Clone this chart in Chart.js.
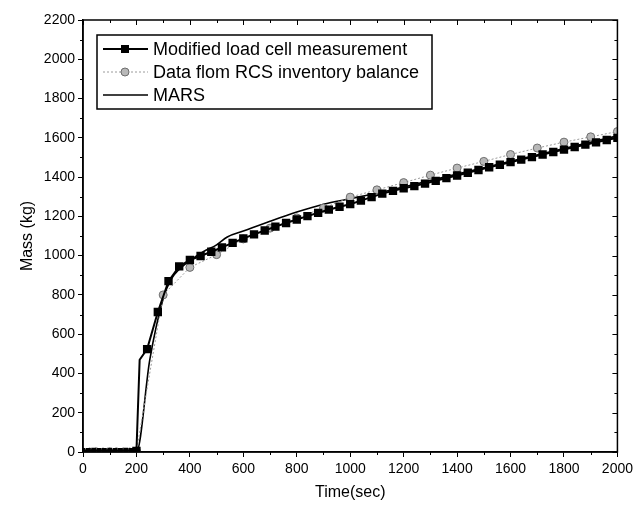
<!DOCTYPE html>
<html>
<head>
<meta charset="utf-8">
<script src="https://cdn.jsdelivr.net/npm/chart.js@4.4.1/dist/chart.umd.min.js"></script>
<style>
    html, body { margin: 0; padding: 0; background: #fff; }
    #wrap { width: 637px; height: 515px; }
</style>
</head>
<body>
<div id="wrap"><canvas id="massChart"></canvas></div>
<script>
// data
const seriesNames = ['Modified load cell measurement', 'Data flom RCS inventory balance', 'MARS'];

const loadTime = [0, 20, 40, 60, 80, 100, 120, 140, 160, 180, 200, 212, 240, 280, 320, 360, 400, 440,
    480, 520, 560, 600, 640, 680, 720, 760, 800, 840, 880, 920, 960, 1000, 1040, 1080, 1120, 1160,
    1200, 1240, 1280, 1320, 1360, 1400, 1440, 1480, 1520, 1560, 1600, 1640, 1680, 1720, 1760, 1800,
    1840, 1880, 1920, 1960, 2000];
const loadMass = [8, 8, 9, 8, 8, 9, 8, 8, 9, 8, 5, 470, 524, 713, 870, 945, 978, 998,
    1020, 1042, 1065, 1088, 1108, 1128, 1148, 1166, 1184, 1201, 1218, 1234, 1249, 1262, 1280, 1298, 1316, 1330,
    1343, 1354, 1367, 1381, 1395, 1408, 1422, 1436, 1450, 1463, 1476, 1489, 1502, 1515, 1528, 1540,
    1553, 1565, 1577, 1589, 1600];

const rcsTime = [0, 25, 50, 75, 100, 125, 150, 175, 200, 300, 400, 500, 600, 700, 800, 900, 1000,
    1100, 1200, 1300, 1400, 1500, 1600, 1700, 1800, 1900, 2000];
const rcsMass = [10, 10, 11, 10, 10, 11, 10, 10, 5, 800, 940, 1005, 1085, 1140, 1192, 1242, 1298,
    1335, 1372, 1410, 1446, 1480, 1515, 1548, 1578, 1605, 1632];

const marsTime = [0, 200, 250, 300, 330, 360, 400, 450, 500, 540, 600, 700, 800, 900, 1000,
    1100, 1200, 1400, 1600, 1800, 2000];
const marsMass = [0, 0, 470, 780, 880, 930, 975, 1020, 1055, 1095, 1125, 1175, 1222, 1262, 1290,
    1318, 1350, 1415, 1480, 1545, 1610];

const xTicks = [0, 200, 400, 600, 800, 1000, 1200, 1400, 1600, 1800, 2000];
const yTicks = [0, 200, 400, 600, 800, 1000, 1200, 1400, 1600, 1800, 2000, 2200];

const toPoints = (xs, ys) => xs.map((x, i) => ({ x: x, y: ys[i] }));
const FONT = '"Liberation Sans", Arial, sans-serif';

// frame, minor ticks and inward ticks on the top/right edges
const framePlugin = {
    id: 'frame',
    afterDraw(chart) {
        const { ctx, chartArea: a, scales } = chart;
        ctx.save();
        ctx.strokeStyle = '#000';
        ctx.lineWidth = 1.5;
        ctx.strokeRect(a.left, a.top, a.right - a.left, a.bottom - a.top);
        ctx.lineWidth = 1;
        ctx.beginPath();
        for (let v = 0; v <= 2000; v += 100) {
            const px = Math.round(scales.x.getPixelForValue(v)) + 0.5;
            const major = v % 200 === 0;
            if (!major) { ctx.moveTo(px, a.bottom); ctx.lineTo(px, a.bottom + 3); }
            ctx.moveTo(px, a.top); ctx.lineTo(px, a.top + (major ? 5 : 3));
        }
        for (let v = 0; v <= 2200; v += 100) {
            const py = Math.round(scales.y.getPixelForValue(v)) + 0.5;
            const major = v % 200 === 0;
            if (!major) { ctx.moveTo(a.left, py); ctx.lineTo(a.left - 3, py); }
            ctx.moveTo(a.right, py); ctx.lineTo(a.right - (major ? 5 : 3), py);
        }
        ctx.stroke();
        ctx.restore();
    }
};

// boxed legend inside the plot, top left
const legendPlugin = {
    id: 'boxLegend',
    afterDraw(chart) {
        const { ctx, chartArea: a } = chart;
        const x0 = a.left + 14, y0 = a.top + 15, w = 335, h = 74, rowH = 23;
        ctx.save();
        ctx.fillStyle = '#fff';
        ctx.fillRect(x0, y0, w, h);
        ctx.strokeStyle = '#000';
        ctx.lineWidth = 1.5;
        ctx.strokeRect(x0, y0, w, h);
        ctx.font = '18px ' + FONT;
        ctx.textBaseline = 'middle';
        chart.data.datasets.forEach((ds, i) => {
            const cy = y0 + 14 + i * rowH;
            ctx.setLineDash(ds.borderDash || []);
            ctx.strokeStyle = ds.borderColor;
            ctx.lineWidth = ds.borderWidth;
            ctx.beginPath();
            ctx.moveTo(x0 + 6, cy);
            ctx.lineTo(x0 + 51, cy);
            ctx.stroke();
            ctx.setLineDash([]);
            if (ds.pointStyle === 'rect') {
                ctx.fillStyle = ds.pointBackgroundColor;
                ctx.fillRect(x0 + 24, cy - 4, 8, 8);
            } else if (ds.pointStyle === 'circle') {
                ctx.fillStyle = ds.pointBackgroundColor;
                ctx.strokeStyle = ds.pointBorderColor;
                ctx.lineWidth = 1;
                ctx.beginPath();
                ctx.arc(x0 + 28, cy, 4, 0, Math.PI * 2);
                ctx.fill();
                ctx.stroke();
            }
            ctx.fillStyle = '#000';
            ctx.fillText(ds.label, x0 + 56, cy + 1);
        });
        ctx.restore();
    }
};

// small markers on the flat part before 200 s, none on the steep jump
const markerSize = (big) => c => {
    const x = c.raw ? c.raw.x : 0;
    if (x < 200) return 2;
    if (x > 200 && x < 240) return 0;
    return big;
};

new Chart(document.getElementById('massChart').getContext('2d'), {
    type: 'line',
    data: {
        datasets: [{
            label: seriesNames[0],
            data: toPoints(loadTime, loadMass),
            borderColor: '#000',
            borderWidth: 2,
            pointStyle: 'rect',
            pointRadius: markerSize(4.5),
            pointBackgroundColor: '#000',
            pointBorderColor: '#000',
            tension: 0
        }, {
            label: seriesNames[1],
            data: toPoints(rcsTime, rcsMass),
            borderColor: '#9a9a9a',
            borderWidth: 1,
            borderDash: [2, 2],
            pointStyle: 'circle',
            pointRadius: markerSize(4),
            pointBackgroundColor: '#b8b8b8',
            pointBorderColor: '#6e6e6e',
            pointBorderWidth: 1,
            tension: 0
        }, {
            label: seriesNames[2],
            data: toPoints(marsTime, marsMass),
            borderColor: '#000',
            borderWidth: 1.6,
            pointRadius: 0,
            pointStyle: false,
            cubicInterpolationMode: 'monotone'
        }]
    },
    options: {
        responsive: true,
        maintainAspectRatio: false,
        animation: false,
        layout: { padding: { left: 18, top: 20, right: 17, bottom: 13 } },
        plugins: {
            legend: { display: false },
            tooltip: { enabled: false }
        },
        scales: {
            x: {
                type: 'linear',
                min: 0,
                max: 2000,
                afterBuildTicks: s => { s.ticks = xTicks.map(v => ({ value: v })); },
                afterFit: s => { s.height = 50; },
                grid: { drawOnChartArea: false, color: '#000', tickLength: 5 },
                border: { color: '#000', width: 1.5 },
                ticks: { color: '#000', font: { family: FONT, size: 14 }, padding: 4, maxRotation: 0, callback: v => String(v) },
                title: { display: true, text: 'Time(sec)', color: '#000', font: { family: FONT, size: 16 }, padding: { top: 4, bottom: 0 } }
            },
            y: {
                type: 'linear',
                min: 0,
                max: 2200,
                afterBuildTicks: s => { s.ticks = yTicks.map(v => ({ value: v })); },
                afterFit: s => { s.width = 65; },
                grid: { drawOnChartArea: false, color: '#000', tickLength: 5 },
                border: { color: '#000', width: 1.5 },
                ticks: { color: '#000', font: { family: FONT, size: 14 }, padding: 3, callback: v => String(v) },
                title: { display: true, text: 'Mass (kg)', color: '#000', font: { family: FONT, size: 16 }, padding: { top: 0, bottom: 0 } }
            }
        }
    },
    plugins: [framePlugin, legendPlugin]
});
</script>
</body>
</html>
